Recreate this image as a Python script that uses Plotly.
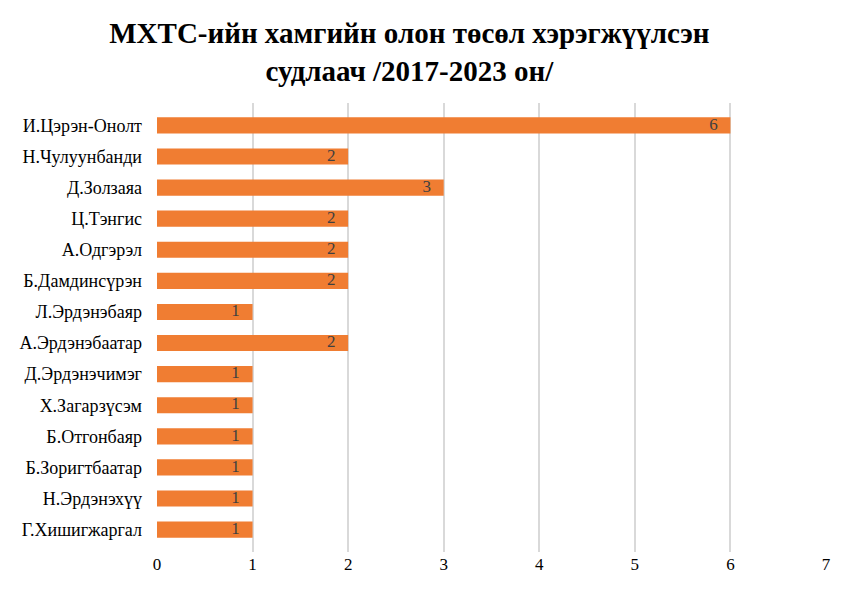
import plotly.graph_objects as go

names = ["И.Цэрэн-Онолт", "Н.Чулуунбанди", "Д.Золзаяа", "Ц.Тэнгис", "А.Одгэрэл",
         "Б.Дамдинсүрэн", "Л.Эрдэнэбаяр", "А.Эрдэнэбаатар", "Д.Эрдэнэчимэг",
         "Х.Загарзүсэм", "Б.Отгонбаяр", "Б.Зоригтбаатар", "Н.Эрдэнэхүү", "Г.Хишигжаргал"]
projects = [6, 2, 3, 2, 2, 2, 1, 2, 1, 1, 1, 1, 1, 1]
ticks = [0, 1, 2, 3, 4, 5, 6, 7]

serif = "Liberation Serif"

fig = go.Figure()
fig.add_trace(go.Bar(
    x=projects, y=names, orientation="h",
    marker=dict(color="#F07D32", line=dict(width=0)),
    width=0.52, hoverinfo="x+y",
))
# value labels at the bar ends
fig.add_trace(go.Scatter(
    x=projects, y=names, mode="text",
    text=[f"{v}   " for v in projects], textposition="middle left",
    textfont=dict(family=serif, size=17, color="#404040"),
    hoverinfo="skip", cliponaxis=False,
))

fig.update_layout(
    width=854, height=589,
    paper_bgcolor="white", plot_bgcolor="white",
    margin=dict(l=149, r=36, t=95, b=45, autoexpand=False),
    font=dict(family=serif, size=17, color="black"),
    title=dict(
        text="МХТС-ийн хамгийн олон төсөл хэрэгжүүлсэн<br>судлаач /2017-2023 он/",
        x=0.47, xanchor="center", y=0.94, yanchor="middle",
        font=dict(family=serif, size=29, color="black", weight="bold"),
    ),
    showlegend=False,
)
fig.update_xaxes(range=[0, 7], tickvals=ticks, showgrid=True, gridcolor="#D9D9D9",
                 gridwidth=1.5, zeroline=False, showline=False, ticks="",
                 automargin=False, tickfont=dict(family=serif, size=17, color="black"))
fig.update_yaxes(autorange="reversed", showgrid=False, zeroline=False, ticks="",
                 automargin=False, ticklabelstandoff=14,
                 tickfont=dict(family=serif, size=18, color="black"))

fig.write_html("out.html")
